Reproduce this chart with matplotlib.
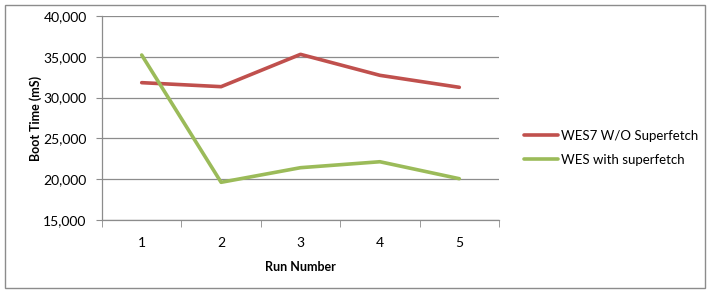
import matplotlib
matplotlib.use("Agg")
import matplotlib.pyplot as plt
from matplotlib.patches import Rectangle
from matplotlib.ticker import FuncFormatter, FixedLocator

# data
runs = [1, 2, 3, 4, 5]
wes7_no_sf = [31830, 31340, 35300, 32730, 31260]
wes_sf = [35220, 19620, 21410, 22140, 20060]
series_names = ["WES7 W/O Superfetch", "WES with superfetch"]
series_colors = ["#C0504D", "#9BBB59"]

plt.rcParams['font.family'] = ['Lato', 'DejaVu Sans']

fig = plt.figure(figsize=(7.09, 2.91), dpi=100)
fig.patch.set_facecolor("white")
# outer chart border
fig.patches.append(Rectangle((5 / 709, 3 / 291), 700 / 709, 283 / 291,
                             transform=fig.transFigure, fill=False,
                             edgecolor="#8c8c8c", linewidth=1.0))

ax = fig.add_axes([102 / 709, 71 / 291, 397 / 709, 204 / 291])
for vals, name, col in zip([wes7_no_sf, wes_sf], series_names, series_colors):
    ax.plot(runs, vals, color=col, linewidth=2.6, label=name,
            solid_joinstyle="round", solid_capstyle="round")

ax.set_xlim(0.5, 5.5)
ax.set_ylim(15000, 40000)
ax.set_yticks(range(15000, 40001, 5000))
ax.yaxis.set_major_formatter(FuncFormatter(lambda v, p: f"{int(v):,}"))
ax.grid(axis="y", color="#8c8c8c", linewidth=0.9)
ax.set_axisbelow(True)

ax.set_xticks(runs)
ax.set_xticklabels([str(r) for r in runs])
ax.xaxis.set_minor_locator(FixedLocator([0.5, 1.5, 2.5, 3.5, 4.5, 5.5]))
ax.tick_params(axis="x", which="major", length=0, pad=12, labelsize=10)
ax.tick_params(axis="x", which="minor", length=5, color="#8c8c8c", direction="out")
ax.tick_params(axis="y", length=4, color="#8c8c8c", labelsize=10, pad=7)

for s in ["top", "right"]:
    ax.spines[s].set_visible(False)
for s in ["left", "bottom"]:
    ax.spines[s].set_color("#8c8c8c")
    ax.spines[s].set_linewidth(0.9)

ax.set_xlabel("Run Number", fontsize=9, fontweight="bold", labelpad=9)
ax.set_ylabel("Boot Time (mS)", fontsize=9, fontweight="bold", labelpad=1)

fig.legend(loc="upper left", bbox_to_anchor=(512 / 709, 1 - 118 / 291),
           frameon=False, fontsize=9.5, handlelength=2.6, handletextpad=0.2,
           labelspacing=0.9)

fig.savefig("out.png", dpi=100)
